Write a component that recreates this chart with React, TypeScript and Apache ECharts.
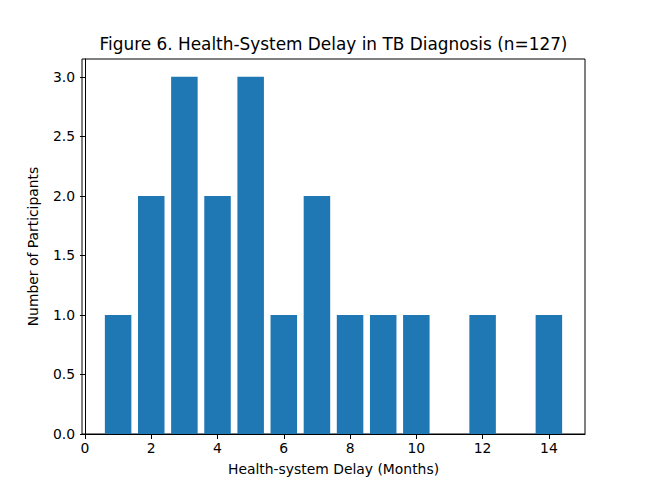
import React, { useEffect, useRef } from "react";
import * as echarts from "echarts";

const delayMonths = [1, 2, 3, 4, 5, 6, 7, 8, 9, 10, 12, 14];
const participants = [1, 2, 3, 2, 3, 1, 2, 1, 1, 1, 1, 1];
const xTicks = [0, 2, 4, 6, 8, 10, 12, 14];
const yTicks = [0, 0.5, 1, 1.5, 2, 2.5, 3];
const titleText = "Figure 6. Health-System Delay in TB Diagnosis (n=127)";
const xLabel = "Health-system Delay (Months)";
const yLabel = "Number of Participants";

const FONT = "DejaVu Sans";

export default function App() {
  const ref = useRef<HTMLDivElement>(null);
  useEffect(() => {
    document.body.style.margin = "0";
    const chart = echarts.init(ref.current!, null, { renderer: "svg" });
    const data = delayMonths.map((m, i) => [m, participants[i]]);
    chart.setOption({
      animation: false,
      backgroundColor: "#ffffff",
      graphic: [
        {
          type: "text",
          x: 333.5,
          y: 44,
          style: {
            text: titleText,
            fontFamily: FONT,
            fontSize: 16.9,
            fill: "#000",
            align: "center",
            verticalAlign: "middle",
          },
        },
      ],
      grid: {
        left: 82,
        right: 65,
        top: 59,
        bottom: 53,
        show: true,
        borderColor: "#000",
        borderWidth: 1,
        backgroundColor: "transparent",
      },
      xAxis: {
        type: "value",
        min: -0.09,
        max: 15.09,
        splitLine: { show: false },
        axisLine: { show: true, onZero: false, lineStyle: { color: "#000", width: 1 } },
        axisTick: { show: true, length: 5, customValues: xTicks, lineStyle: { color: "#000" } },
        axisLabel: {
          customValues: xTicks,
          color: "#000",
          fontFamily: FONT,
          fontSize: 13.9,
          margin: 7,
          formatter: (v: number) => String(v),
        },
        name: xLabel,
        nameLocation: "middle",
        nameGap: 28,
        nameTextStyle: { fontFamily: FONT, fontSize: 13.9, color: "#000" },
      },
      yAxis: {
        type: "value",
        min: 0,
        max: 3.15,
        splitLine: { show: false },
        axisLine: { show: true, lineStyle: { color: "#000", width: 1 } },
        axisTick: { show: true, length: 5, customValues: yTicks, lineStyle: { color: "#000" } },
        axisLabel: {
          customValues: yTicks,
          color: "#000",
          fontFamily: FONT,
          fontSize: 13.9,
          margin: 7,
          formatter: (v: number) => v.toFixed(1),
        },
        name: yLabel,
        nameLocation: "middle",
        nameGap: 42,
        nameTextStyle: { fontFamily: FONT, fontSize: 13.9, color: "#000" },
      },
      series: [
        {
          type: "custom",
          data,
          renderItem: (params: any, api: any) => {
            const x = api.value(0);
            const y = api.value(1);
            const p0 = api.coord([x - 0.4, y]);
            const p1 = api.coord([x + 0.4, 0]);
            return {
              type: "rect",
              shape: { x: p0[0], y: p0[1], width: p1[0] - p0[0], height: p1[1] - p0[1] },
              style: { fill: "#1f77b4" },
            };
          },
        },
      ],
    });
    return () => chart.dispose();
  }, []);
  return <div ref={ref} style={{ width: 650, height: 487 }} />;
}
